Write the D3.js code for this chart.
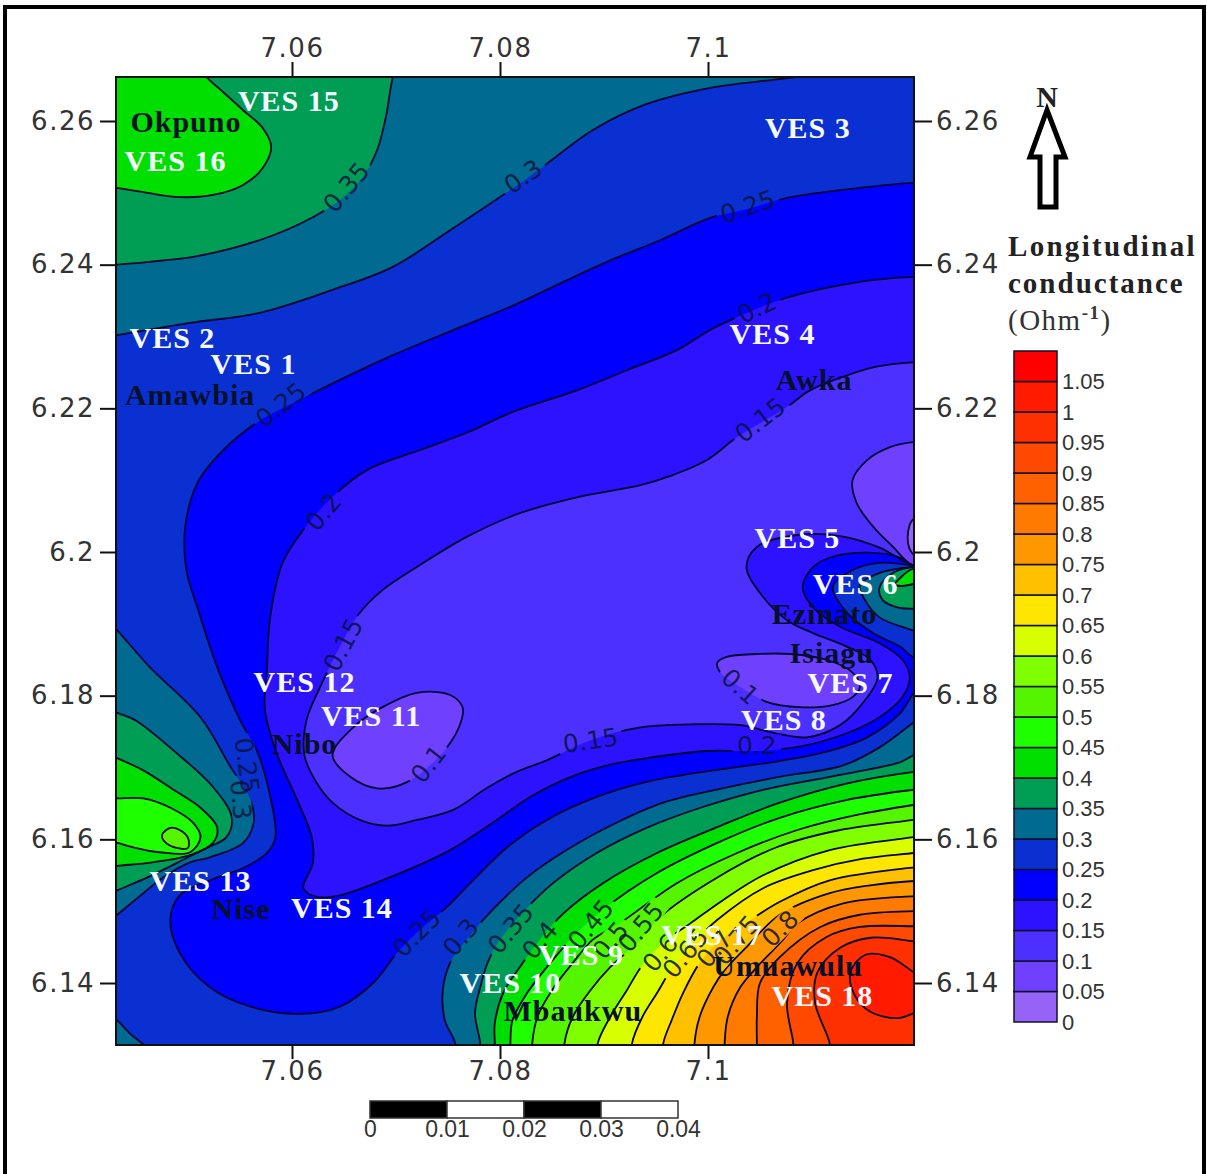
<!DOCTYPE html>
<html>
<head>
<meta charset="utf-8">
<script src="https://cdn.jsdelivr.net/npm/d3@7"></script>
<style>
    html, body { margin: 0; padding: 0; background: #fff; overflow: hidden; }
    svg { display: block; }
</style>
</head>
<body>
<svg id="mapSvg" width="1207" height="1174"></svg>
<script>
// tick values
const lonTicks = [7.06, 7.08, 7.1];
const latTicks = [6.14, 6.16, 6.18, 6.2, 6.22, 6.24, 6.26];
const levels = [0, 0.05, 0.1, 0.15, 0.2, 0.25, 0.3, 0.35, 0.4, 0.45, 0.5, 0.55, 0.6, 0.65, 0.7, 0.75, 0.8, 0.85, 0.9, 0.95, 1, 1.05];
const scaleTicks = [0, 0.01, 0.02, 0.03, 0.04];

// one colour per class: 0-0.05, 0.05-0.1 ... 1.05-1.1
const bandColors = ["#9663f7", "#7040ff", "#4c30ff", "#2c12ff", "#0000ff", "#0a30d2", "#006a90", "#009e55", "#00df00", "#1eff00",
    "#55f500", "#80ff00", "#d8ff00", "#ffe600", "#ffc000", "#ff9800", "#ff7a00", "#ff6000", "#ff4800", "#ff3000", "#ff1a00", "#ff0000"];

// contour lines as [lon, lat]
// the last points of each run lie outside the map frame and close the area
const below025 = [[7.1213,6.2514],[7.1197,6.2514],[7.1146,6.2507],[7.1076,6.2493],[7.1034,6.2476],[7.1002,6.2465],[7.0954,6.2434],[7.0906,6.2406],[7.0858,6.2374],[7.0814,6.2344],[7.0762,6.2313],[7.0697,6.2274],[7.0620,6.2221],[7.0566,6.2180],[7.0534,6.2142],[7.0509,6.2096],[7.0497,6.2031],[7.0499,6.1971],[7.0509,6.1923],[7.0528,6.1840],[7.0550,6.1766],[7.0566,6.1724],[7.0577,6.1673],[7.0584,6.1603],[7.0576,6.1581],[7.0553,6.1560],[7.0521,6.1543],[7.0492,6.1522],[7.0483,6.1488],[7.0492,6.1442],[7.0521,6.1394],[7.0560,6.1367],[7.0608,6.1357],[7.0646,6.1367],[7.0678,6.1400],[7.0701,6.1442],[7.0720,6.1470],[7.0749,6.1506],[7.0774,6.1543],[7.0807,6.1589],[7.0845,6.1627],[7.0893,6.1659],[7.0941,6.1680],[7.1005,6.1696],[7.1069,6.1709],[7.1114,6.1722],[7.1153,6.1742],[7.1185,6.1776],[7.1198,6.1804],[7.1213,6.1822],[7.1213,6.1864],[7.1198,6.1854],[7.1185,6.1868],[7.1159,6.1887],[7.1134,6.1915],[7.1120,6.1951],[7.1139,6.1975],[7.1165,6.1985],[7.1196,6.1982],[7.1213,6.1982]];
const below020 = [[7.1213,6.2383],[7.1197,6.2383],[7.1146,6.2376],[7.1076,6.2354],[7.1028,6.2327],[7.1002,6.2309],[7.0970,6.2281],[7.0922,6.2253],[7.0874,6.2225],[7.0814,6.2196],[7.0768,6.2166],[7.0723,6.2142],[7.0672,6.2114],[7.0639,6.2077],[7.0611,6.2031],[7.0591,6.1985],[7.0579,6.1909],[7.0576,6.1840],[7.0574,6.1780],[7.0586,6.1717],[7.0605,6.1655],[7.0619,6.1603],[7.0620,6.1567],[7.0611,6.1532],[7.0624,6.1520],[7.0646,6.1522],[7.0704,6.1553],[7.0752,6.1585],[7.0800,6.1630],[7.0829,6.1659],[7.0870,6.1688],[7.0909,6.1705],[7.0941,6.1713],[7.0999,6.1723],[7.1047,6.1723],[7.1088,6.1729],[7.1134,6.1748],[7.1165,6.1770],[7.1187,6.1798],[7.1194,6.1826],[7.1187,6.1850],[7.1165,6.1873],[7.1127,6.1896],[7.1101,6.1923],[7.1091,6.1951],[7.1101,6.1979],[7.1117,6.1992],[7.1153,6.1999],[7.1185,6.1992],[7.1196,6.1982],[7.1213,6.1982]];
const below015 = [[7.1213,6.2264],[7.1197,6.2264],[7.1162,6.2258],[7.1130,6.2244],[7.1098,6.2225],[7.1076,6.2202],[7.1028,6.2160],[7.0999,6.2128],[7.0966,6.2107],[7.0935,6.2093],[7.0877,6.2077],[7.0819,6.2054],[7.0768,6.2021],[7.0720,6.1979],[7.0687,6.1947],[7.0665,6.1915],[7.0646,6.1868],[7.0627,6.1812],[7.0614,6.1766],[7.0612,6.1717],[7.0624,6.1678],[7.0639,6.1651],[7.0665,6.1627],[7.0691,6.1619],[7.0720,6.1627],[7.0755,6.1641],[7.0787,6.1671],[7.0816,6.1694],[7.0845,6.1710],[7.0887,6.1738],[7.0935,6.1756],[7.0983,6.1760],[7.1031,6.1759],[7.1064,6.1748],[7.1095,6.1742],[7.1127,6.1759],[7.1149,6.1790],[7.1163,6.1825],[7.1156,6.1850],[7.1134,6.1868],[7.1101,6.1887],[7.1076,6.1905],[7.1050,6.1943],[7.1037,6.1979],[7.1047,6.2007],[7.1088,6.2024],[7.1127,6.2022],[7.1165,6.2006],[7.1196,6.1982],[7.1213,6.1982]];
const below010Nibo = [[7.0764,6.1784],[7.0752,6.1801],[7.0720,6.1804],[7.0687,6.1784],[7.0659,6.1756],[7.0639,6.1717],[7.0656,6.1687],[7.0682,6.1671],[7.0711,6.1680],[7.0749,6.1728],[7.0763,6.1766]];
const below010Isiagu = [[7.1009,6.1846],[7.1018,6.1854],[7.1047,6.1858],[7.1079,6.1858],[7.1114,6.1850],[7.1139,6.1832],[7.1146,6.1812],[7.1139,6.1798],[7.1120,6.1787],[7.1088,6.1784],[7.1057,6.1791],[7.1031,6.1812],[7.1012,6.1832]];
const below010East = [[7.1213,6.2153],[7.1197,6.2153],[7.1175,6.2146],[7.1153,6.2128],[7.1139,6.2100],[7.1143,6.2068],[7.1159,6.2035],[7.1178,6.2007],[7.1196,6.1982],[7.1213,6.1982]];
const below005East = [[7.1209,6.2047],[7.1197,6.2045],[7.1192,6.2021],[7.1196,6.1999],[7.1209,6.1989]];

const northWest030 = [[7.0415,6.2299],[7.0431,6.2302],[7.0502,6.2319],[7.0569,6.2333],[7.0639,6.2365],[7.0697,6.2397],[7.0752,6.2448],[7.0810,6.2504],[7.0841,6.2536],[7.0889,6.2587],[7.0938,6.2622],[7.1002,6.2646],[7.1066,6.2658],[7.1108,6.2665],[7.1146,6.2671],[7.1146,6.2685],[7.0415,6.2685]];
const northWest035 = [[7.0415,6.2398],[7.0431,6.2400],[7.0463,6.2404],[7.0505,6.2411],[7.0543,6.2423],[7.0582,6.2441],[7.0620,6.2466],[7.0646,6.2490],[7.0668,6.2522],[7.0682,6.2560],[7.0691,6.2611],[7.0697,6.2661],[7.0704,6.2685],[7.0415,6.2685]];
const northWest040 = [[7.0415,6.2511],[7.0431,6.2507],[7.0461,6.2500],[7.0492,6.2494],[7.0524,6.2497],[7.0553,6.2511],[7.0572,6.2535],[7.0580,6.2564],[7.0572,6.2590],[7.0553,6.2615],[7.0534,6.2640],[7.0518,6.2661],[7.0507,6.2685],[7.0415,6.2685]];

const west030 = [[7.0415,6.1916],[7.0432,6.1891],[7.0463,6.1840],[7.0512,6.1770],[7.0540,6.1703],[7.0560,6.1655],[7.0563,6.1623],[7.0553,6.1595],[7.0521,6.1575],[7.0502,6.1568],[7.0476,6.1547],[7.0457,6.1525],[7.0432,6.1495],[7.0415,6.1474]];
const west035 = [[7.0415,6.1787],[7.0432,6.1776],[7.0449,6.1766],[7.0489,6.1720],[7.0524,6.1673],[7.0542,6.1631],[7.0537,6.1603],[7.0518,6.1588],[7.0500,6.1575],[7.0461,6.1547],[7.0432,6.1529],[7.0415,6.1518]];
const west040 = [[7.0415,6.1724],[7.0432,6.1713],[7.0457,6.1696],[7.0486,6.1669],[7.0512,6.1644],[7.0528,6.1617],[7.0524,6.1595],[7.0502,6.1578],[7.0466,6.1568],[7.0432,6.1563],[7.0415,6.1560]];
const west045 = [[7.0415,6.1657],[7.0432,6.1657],[7.0457,6.1657],[7.0483,6.1644],[7.0505,6.1623],[7.0512,6.1603],[7.0502,6.1582],[7.0473,6.1582],[7.0447,6.1589],[7.0432,6.1595],[7.0415,6.1599]];
const west050 = [[7.0475,6.1606],[7.0483,6.1616],[7.0492,6.1613],[7.0500,6.1602],[7.0500,6.1588],[7.0489,6.1588],[7.0478,6.1596]];
const southWest030 = [[7.0415,6.1369],[7.0432,6.1348],[7.0444,6.1330],[7.0460,6.1307],[7.0415,6.1293]];

const east030 = [[7.1196,6.1979],[7.1165,6.1971],[7.1146,6.1954],[7.1151,6.1933],[7.1165,6.1909],[7.1197,6.1891],[7.1213,6.1884],[7.1213,6.1979]];
const east035 = [[7.1196,6.1979],[7.1178,6.1971],[7.1165,6.1951],[7.1168,6.1933],[7.1182,6.1923],[7.1197,6.1921],[7.1213,6.1921],[7.1213,6.1979]];
const east040 = [[7.1196,6.1976],[7.1185,6.1964],[7.1180,6.1955],[7.1189,6.1953],[7.1209,6.1964],[7.1209,6.1976]];

const south030 = [[7.0757,6.1293],[7.0757,6.1316],[7.0747,6.1348],[7.0745,6.1390],[7.0752,6.1428],[7.0762,6.1450],[7.0793,6.1502],[7.0826,6.1547],[7.0864,6.1585],[7.0912,6.1623],[7.0957,6.1651],[7.1014,6.1671],[7.1069,6.1687],[7.1130,6.1703],[7.1165,6.1728],[7.1197,6.1762],[7.1213,6.1780],[7.1213,6.1293]];
const south035 = [[7.0781,6.1293],[7.0781,6.1316],[7.0776,6.1358],[7.0781,6.1394],[7.0788,6.1428],[7.0798,6.1456],[7.0821,6.1497],[7.0851,6.1539],[7.0893,6.1581],[7.0941,6.1616],[7.0995,6.1645],[7.1053,6.1669],[7.1117,6.1687],[7.1182,6.1706],[7.1213,6.1722],[7.1213,6.1293]];
const south040 = [[7.0795,6.1293],[7.0795,6.1316],[7.0795,6.1344],[7.0803,6.1386],[7.0819,6.1422],[7.0838,6.1460],[7.0861,6.1497],[7.0899,6.1539],[7.0951,6.1581],[7.1009,6.1617],[7.1069,6.1651],[7.1134,6.1678],[7.1198,6.1694],[7.1213,6.1696],[7.1213,6.1293]];
const south045 = [[7.0810,6.1293],[7.0810,6.1316],[7.0812,6.1348],[7.0826,6.1386],[7.0845,6.1422],[7.0870,6.1464],[7.0899,6.1502],[7.0951,6.1553],[7.1009,6.1595],[7.1069,6.1630],[7.1134,6.1655],[7.1198,6.1669],[7.1213,6.1671],[7.1213,6.1293]];
const south050 = [[7.0831,6.1293],[7.0831,6.1316],[7.0836,6.1353],[7.0850,6.1390],[7.0870,6.1428],[7.0889,6.1460],[7.0915,6.1483],[7.0970,6.1539],[7.1028,6.1581],[7.1086,6.1613],[7.1143,6.1634],[7.1198,6.1648],[7.1213,6.1651],[7.1213,6.1293]];
const south055 = [[7.0862,6.1293],[7.0862,6.1316],[7.0870,6.1353],[7.0887,6.1390],[7.0906,6.1422],[7.0935,6.1460],[7.0954,6.1492],[7.1009,6.1547],[7.1066,6.1589],[7.1127,6.1613],[7.1198,6.1627],[7.1213,6.1630],[7.1213,6.1293]];
const south060 = [[7.0894,6.1293],[7.0894,6.1316],[7.0906,6.1353],[7.0922,6.1390],[7.0937,6.1425],[7.0957,6.1456],[7.0983,6.1483],[7.1014,6.1515],[7.1053,6.1550],[7.1117,6.1585],[7.1198,6.1603],[7.1213,6.1606],[7.1213,6.1293]];
const south065 = [[7.0927,6.1293],[7.0927,6.1316],[7.0937,6.1353],[7.0951,6.1386],[7.0966,6.1422],[7.0989,6.1460],[7.1009,6.1488],[7.1053,6.1532],[7.1101,6.1557],[7.1149,6.1573],[7.1198,6.1581],[7.1213,6.1584],[7.1213,6.1293]];
const south070 = [[7.0957,6.1293],[7.0957,6.1316],[7.0965,6.1348],[7.0976,6.1386],[7.0992,6.1428],[7.1009,6.1456],[7.1036,6.1483],[7.1069,6.1513],[7.1117,6.1543],[7.1198,6.1561],[7.1213,6.1563],[7.1213,6.1293]];
const south075 = [[7.0987,6.1293],[7.0987,6.1316],[7.0992,6.1353],[7.1005,6.1394],[7.1016,6.1418],[7.1037,6.1450],[7.1069,6.1495],[7.1117,6.1525],[7.1156,6.1536],[7.1198,6.1542],[7.1213,6.1543],[7.1213,6.1293]];
const south080 = [[7.1016,6.1293],[7.1016,6.1316],[7.1019,6.1353],[7.1031,6.1394],[7.1047,6.1422],[7.1072,6.1460],[7.1086,6.1483],[7.1130,6.1511],[7.1198,6.1521],[7.1213,6.1522],[7.1213,6.1293]];
const south085 = [[7.1047,6.1293],[7.1047,6.1316],[7.1047,6.1353],[7.1050,6.1400],[7.1069,6.1436],[7.1108,6.1478],[7.1146,6.1495],[7.1198,6.1500],[7.1213,6.1500],[7.1213,6.1293]];
const south090 = [[7.1082,6.1293],[7.1082,6.1316],[7.1076,6.1372],[7.1086,6.1428],[7.1114,6.1464],[7.1146,6.1478],[7.1198,6.1479],[7.1213,6.1479],[7.1213,6.1293]];
const south095 = [[7.1117,6.1293],[7.1117,6.1316],[7.1103,6.1372],[7.1105,6.1414],[7.1127,6.1449],[7.1156,6.1463],[7.1198,6.1458],[7.1213,6.1456],[7.1213,6.1293]];
const south100 = [[7.1213,6.1404],[7.1198,6.1415],[7.1175,6.1436],[7.1151,6.1439],[7.1137,6.1415],[7.1141,6.1383],[7.1156,6.1360],[7.1182,6.1351],[7.1198,6.1358],[7.1213,6.1369]];

// painted in this order, each with the class colour inside the line
const areaLines = [below025, below020, below015, below010Nibo, below010Isiagu, below010East, below005East,
    northWest030, northWest035, northWest040, west030, west035, west040, west045, west050, southWest030,
    east030, east035, east040,
    south030, south035, south040, south045, south050, south055, south060, south065, south070, south075,
    south080, south085, south090, south095, south100];
const areaBands = [4, 3, 2, 1, 1, 1, 0,
    6, 7, 8, 6, 7, 8, 9, 10, 6,
    6, 7, 8,
    6, 7, 8, 9, 10, 11, 12, 13, 14, 15,
    16, 17, 18, 19, 20];

// contour labels
const lineLabels = ["0.35", "0.3", "0.25", "0.2", "0.25", "0.15", "0.2", "0.15", "0.1", "0.25", "0.3", "0.25", "0.3", "0.35", "0.4", "0.45", "0.5", "0.55", "0.6", "0.65", "0.7", "0.75", "0.8", "0.15", "0.2", "0.1"];
const lineLabelLon = [7.0652, 7.0822, 7.1038, 7.1047, 7.0589, 7.1050, 7.0630, 7.0649, 7.0731, 7.0557, 7.0551, 7.0720, 7.0762, 7.0810, 7.0838, 7.0887, 7.0906, 7.0935, 7.0954, 7.0978, 7.1006, 7.1027, 7.1069, 7.0887, 7.1047, 7.1031];
const lineLabelLat = [6.2508, 6.2523, 6.2481, 6.2340, 6.2205, 6.2184, 6.2056, 6.1871, 6.1705, 6.1703, 6.1655, 6.1470, 6.1464, 6.1476, 6.1460, 6.1482, 6.1460, 6.1478, 6.1442, 6.1442, 6.1448, 6.1460, 6.1476, 6.1738, 6.1732, 6.1813];
const lineLabelAngle = [-50, -35, -18, -25, -38, -38, -50, -62, -52, 82, 85, -45, -50, -50, -50, -50, -50, -50, -50, -50, -50, -50, -45, -8, 0, 42];

// survey points and towns
const siteNames = ["VES 15", "VES 16", "Okpuno", "VES 3", "VES 2", "VES 1", "Amawbia", "VES 4", "Awka", "VES 5", "VES 6", "Ezinato", "Isiagu", "VES 7", "VES 8", "VES 12", "VES 11", "Nibo", "VES 13", "Nise", "VES 14", "VES 10", "VES 9", "Mbaukwu", "VES 17", "Umuawulu", "VES 18"];
const siteLon = [7.0597, 7.0488, 7.0498, 7.1096, 7.0485, 7.0563, 7.0502, 7.1062, 7.1102, 7.1086, 7.1142, 7.1112, 7.1119, 7.1137, 7.1073, 7.0612, 7.0676, 7.0612, 7.0512, 7.0551, 7.0648, 7.0810, 7.0878, 7.0870, 7.1004, 7.1077, 7.1110];
const siteLat = [6.2628, 6.2544, 6.2599, 6.2590, 6.2298, 6.2262, 6.2219, 6.2303, 6.2239, 6.2019, 6.1955, 6.1913, 6.1859, 6.1818, 6.1766, 6.1819, 6.1772, 6.1733, 6.1542, 6.1503, 6.1504, 6.1400, 6.1439, 6.1361, 6.1467, 6.1424, 6.1382];
const townNames = ["Okpuno", "Amawbia", "Awka", "Ezinato", "Isiagu", "Nibo", "Nise", "Mbaukwu", "Umuawulu"];

function drawMap() {
    let canvas = d3.select("#mapSvg");

    let left = 116, right = 914, top = 77, bottom = 1045;

    let x = d3.scaleLinear().domain([7.06, 7.1]).range([292, 708]);
    let y = d3.scaleLinear().domain([6.26, 6.14]).range([121, 983]);

    // outer frame of the figure
    canvas.append("rect")
        .attr("x", 5).attr("y", 7)
        .attr("width", 1199).attr("height", 1190)
        .attr("fill", "#fff")
        .attr("stroke", "#000")
        .attr("stroke-width", 4);

    let defs = canvas.append("defs");
    defs.append("clipPath").attr("id", "plotClip")
        .append("rect")
        .attr("x", left).attr("y", top)
        .attr("width", right - left).attr("height", bottom - top);

    // line gaps behind the contour labels
    let gapMask = defs.append("mask").attr("id", "labelGaps")
        .attr("maskUnits", "userSpaceOnUse")
        .attr("x", 0).attr("y", 0).attr("width", 1207).attr("height", 1174);
    gapMask.append("rect").attr("width", 1207).attr("height", 1174).attr("fill", "#fff");
    lineLabels.forEach((label, i) => {
        let w = label.length * 15 + 4;
        gapMask.append("rect")
            .attr("x", -w / 2).attr("y", -10)
            .attr("width", w).attr("height", 20)
            .attr("fill", "#000")
            .attr("transform", "translate(" + x(lineLabelLon[i]) + "," + y(lineLabelLat[i]) + ") rotate(" + lineLabelAngle[i] + ")");
    });

    let contourLine = d3.line()
        .x(d => x(d[0]))
        .y(d => y(d[1]))
        .curve(d3.curveCatmullRomClosed.alpha(0.5));

    let plot = canvas.append("g").attr("clip-path", "url(#plotClip)");

    plot.append("rect")
        .attr("x", left).attr("y", top)
        .attr("width", right - left).attr("height", bottom - top)
        .attr("fill", bandColors[5]);

    plot.append("g").selectAll("path")
        .data(areaLines)
        .enter()
        .append("path")
        .attr("d", contourLine)
        .attr("fill", (d, i) => bandColors[areaBands[i]]);

    plot.append("g")
        .attr("mask", "url(#labelGaps)")
        .selectAll("path")
        .data(areaLines)
        .enter()
        .append("path")
        .attr("d", contourLine)
        .attr("fill", "none")
        .attr("stroke", "#050530")
        .attr("stroke-width", 1.8);

    plot.append("g").selectAll("text")
        .data(lineLabels)
        .enter()
        .append("text")
        .attr("transform", (d, i) => "translate(" + x(lineLabelLon[i]) + "," + y(lineLabelLat[i]) + ") rotate(" + lineLabelAngle[i] + ")")
        .attr("text-anchor", "middle")
        .attr("dy", "0.36em")
        .attr("font-family", "DejaVu Sans")
        .attr("font-size", 25)
        .attr("fill", "#06123c")
        .attr("fill-opacity", 0.85)
        .text(d => d);

    canvas.append("rect")
        .attr("x", left).attr("y", top)
        .attr("width", right - left).attr("height", bottom - top)
        .attr("fill", "none")
        .attr("stroke", "#111")
        .attr("stroke-width", 2);

    // axes on all four sides
    let axisTop = d3.axisTop(x).tickValues(lonTicks).tickFormat(String).tickSize(15).tickPadding(5);
    let axisBottom = d3.axisBottom(x).tickValues(lonTicks).tickFormat(String).tickSize(14).tickPadding(3);
    let axisLeft = d3.axisLeft(y).tickValues(latTicks).tickFormat(String).tickSize(16).tickPadding(5);
    let axisRight = d3.axisRight(y).tickValues(latTicks).tickFormat(String).tickSize(18).tickPadding(4);

    [[axisTop, 0, top], [axisBottom, 0, bottom], [axisLeft, left, 0], [axisRight, right, 0]].forEach(a => {
        let g = canvas.append("g")
            .attr("transform", "translate(" + a[1] + "," + a[2] + ")")
            .call(a[0]);
        g.select(".domain").remove();
        g.selectAll("line").attr("stroke", "#111").attr("stroke-width", 2);
        g.selectAll("text")
            .attr("font-family", "DejaVu Sans")
            .attr("font-size", 26)
            .attr("letter-spacing", 1.5)
            .attr("fill", "#333");
    });

    // site names on top of the map
    canvas.append("g").selectAll("text")
        .data(siteNames)
        .enter()
        .append("text")
        .attr("x", (d, i) => x(siteLon[i]))
        .attr("y", (d, i) => y(siteLat[i]))
        .attr("dy", "0.33em")
        .attr("text-anchor", "middle")
        .attr("font-family", "Liberation Serif")
        .attr("font-weight", "bold")
        .attr("font-size", 30)
        .attr("letter-spacing", 1)
        .attr("fill", d => townNames.includes(d) ? "#05102a" : "#f4f8ff")
        .text(d => d);

    // colour bar
    let legendY = d3.scaleLinear().domain([0, 1.1]).range([1022, 351]);
    let legendLeft = 1014, legendRight = 1057;

    canvas.append("g").selectAll("rect")
        .data(bandColors)
        .enter()
        .append("rect")
        .attr("x", legendLeft)
        .attr("width", legendRight - legendLeft)
        .attr("y", (d, i) => legendY((i + 1) * 0.05))
        .attr("height", (d, i) => legendY(i * 0.05) - legendY((i + 1) * 0.05))
        .attr("fill", d => d)
        .attr("stroke", "#101028")
        .attr("stroke-width", 1.5);

    let legendAxis = d3.axisRight(legendY).tickValues(levels).tickFormat(String).tickSize(0).tickPadding(5);
    let legendG = canvas.append("g")
        .attr("transform", "translate(" + legendRight + ",0)")
        .call(legendAxis);
    legendG.select(".domain").remove();
    legendG.selectAll("text")
        .attr("font-family", "Liberation Sans")
        .attr("font-size", 22)
        .attr("fill", "#333");

    // legend title
    canvas.append("text")
        .attr("x", 1008).attr("y", 256)
        .attr("font-family", "Liberation Serif").attr("font-weight", "bold")
        .attr("font-size", 29).attr("letter-spacing", 2.3)
        .attr("fill", "#222")
        .text("Longitudinal");
    canvas.append("text")
        .attr("x", 1008).attr("y", 293)
        .attr("font-family", "Liberation Serif").attr("font-weight", "bold")
        .attr("font-size", 29).attr("letter-spacing", 2)
        .attr("fill", "#222")
        .text("conductance");
    let unit = canvas.append("text")
        .attr("x", 1008).attr("y", 330)
        .attr("font-family", "Liberation Serif")
        .attr("font-size", 29).attr("letter-spacing", 1.5)
        .attr("fill", "#333");
    unit.append("tspan").text("(Ohm");
    unit.append("tspan").attr("dy", -11).attr("font-size", 19).attr("font-weight", "bold").text("-1");
    unit.append("tspan").attr("dy", 11).text(")");

    // north arrow
    canvas.append("path")
        .attr("d", "M1047,110 L1030,157 L1040,157 L1040,207 L1056,207 L1056,157 L1065,157 Z")
        .attr("fill", "#fff")
        .attr("stroke", "#000")
        .attr("stroke-width", 5)
        .attr("stroke-linejoin", "miter");
    canvas.append("text")
        .attr("x", 1047).attr("y", 107)
        .attr("text-anchor", "middle")
        .attr("font-family", "Liberation Serif").attr("font-weight", "bold")
        .attr("font-size", 30)
        .attr("fill", "#222")
        .text("N");

    // scale bar
    let scaleX = d3.scaleLinear().domain([0, 0.04]).range([370, 678]);
    canvas.append("g").selectAll("rect")
        .data(scaleTicks.slice(0, -1))
        .enter()
        .append("rect")
        .attr("x", d => scaleX(d))
        .attr("y", 1101)
        .attr("width", d => scaleX(d + 0.01) - scaleX(d))
        .attr("height", 17)
        .attr("fill", (d, i) => i % 2 == 0 ? "#000" : "#fff")
        .attr("stroke", "#333")
        .attr("stroke-width", 1.5);

    let scaleAxis = d3.axisBottom(scaleX).tickValues(scaleTicks).tickFormat(String).tickSize(0).tickPadding(3);
    let scaleG = canvas.append("g")
        .attr("transform", "translate(0,1118)")
        .call(scaleAxis);
    scaleG.select(".domain").remove();
    scaleG.selectAll("text")
        .attr("font-family", "Liberation Sans")
        .attr("font-size", 23)
        .attr("fill", "#333");
}

drawMap();
</script>
</body>
</html>
